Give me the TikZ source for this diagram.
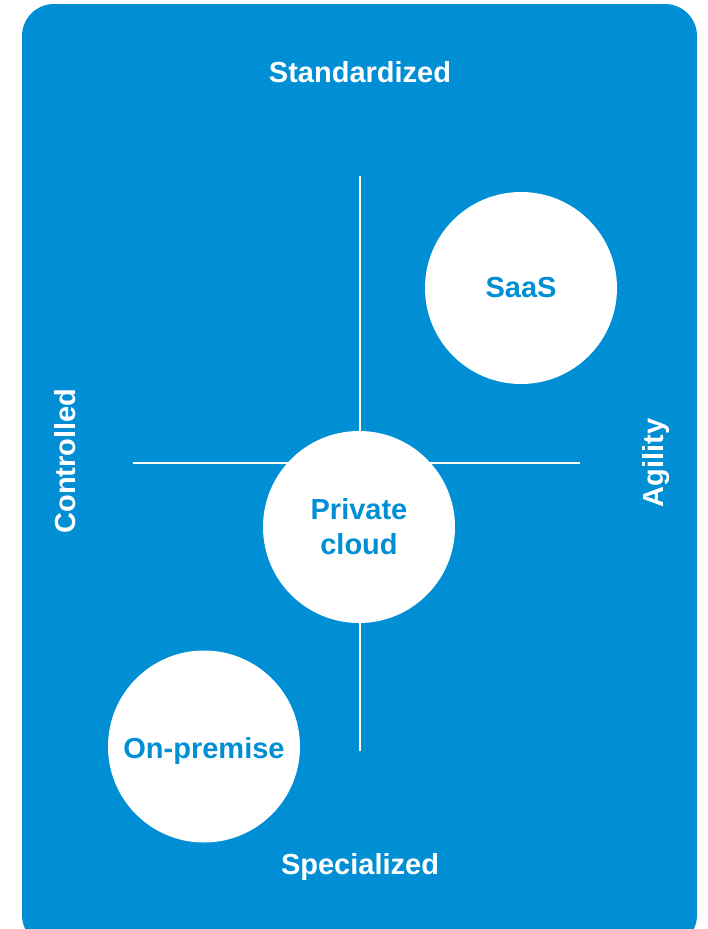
\documentclass[tikz,border=0pt]{standalone}
\usepackage{fontspec}
\setmainfont{Liberation Sans}
\definecolor{quadblue}{RGB}{0,143,213}

\begin{document}
\begin{tikzpicture}[x=1pt,y=-1pt,
    bubble/.style={circle,fill=white,minimum size=192pt,inner sep=0pt,align=center,
      text=quadblue,font=\bfseries\fontsize{29}{35}\selectfont},
    axislabel/.style={text=white,anchor=base,font=\bfseries\fontsize{29}{35}\selectfont}]
    \useasboundingbox (0,0) rectangle (708,929);
    \clip (0,0) rectangle (708,929);
    % Blue panel (bottom edge runs off the page)
    \fill[quadblue,rounded corners=32pt] (22,4) rectangle (697,947);
    % Axes
    \coordinate (top) at (359.5,176);
    \coordinate (bottom) at (359.5,751);
    \coordinate (left) at (133,463);
    \coordinate (right) at (580,463);
    \draw[white,line width=2pt] (top) -- (bottom);
    \draw[white,line width=2pt] (left) -- (right);
    % Axis labels
    \node[axislabel] (standardized) at (360,82) {Standardized};
    \node[axislabel] (specialized) at (360,874) {Specialized};
    \node[axislabel,rotate=90] (controlled) at (75,461) {Controlled};
    \node[axislabel,rotate=90] (agility) at (663,463) {Agility};
    % Circles
    \node[bubble] (saas) at (521,288) {SaaS};
    \node[bubble] (private) at (359,527) {Private\\cloud};
    \node[bubble] (onpremise) at (204,746.5) {};
    \node[text=quadblue,anchor=base,font=\bfseries\fontsize{29}{35}\selectfont]
      (onpremiselabel) at (204,758) {On-premise};
\end{tikzpicture}
\end{document}
